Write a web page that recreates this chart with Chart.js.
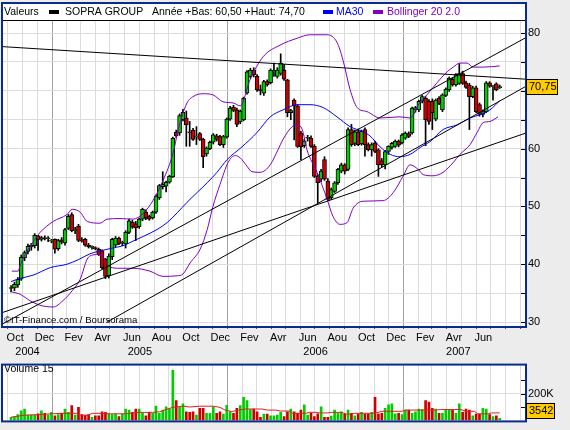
<!DOCTYPE html>
<html>
<head>
<meta charset="utf-8">
<script src="https://cdn.jsdelivr.net/npm/chart.js@4.4.1/dist/chart.umd.min.js"></script>
<style>
html, body { margin: 0; padding: 0; background: #ececec; }
#wrap { position: relative; width: 570px; height: 430px; overflow: hidden; }
#main { position: absolute; left: 0; top: 0; }
#vol { position: absolute; left: 0; top: 356px; }
</style>
</head>
<body>
<div id="wrap">
  <canvas id="main" width="570" height="360"></canvas>
  <canvas id="vol" width="570" height="74"></canvas>
</div>
<script>
// weekly candles, week 0 = week ending Fri 8 Oct 2004
const open = [
  35.8,35.9,36.4,37.4,41.1,42.2,43.0,43.2,44.9,44.3,
  44.5,44.4,44.0,44.3,42.7,44.2,43.7,46.2,48.6,45.8,
  46.6,44.1,44.3,43.3,42.9,42.8,42.6,42.3,40.9,38.0,
  41.3,43.3,44.5,43.6,43.5,45.5,47.3,47.0,46.5,47.8,
  49.0,48.3,48.0,49.0,51.5,53.4,53.5,54.2,55.1,62.8,
  62.7,65.0,65.3,62.9,63.2,62.0,62.6,61.6,59.1,60.0,
  61.1,62.2,62.1,60.7,62.0,65.1,67.2,66.7,64.6,65.0,
  69.6,72.5,73.6,72.5,70.2,69.6,71.6,71.4,73.3,72.5,
  73.0,73.6,71.9,66.2,68.4,67.4,62.7,60.5,61.8,61.8,
  60.4,55.2,54.7,58.1,54.4,51.5,52.6,54.1,56.1,57.2,
  56.4,63.3,60.9,62.9,60.8,63.3,60.7,59.8,61.0,59.8,
  57.9,57.2,59.5,60.2,60.4,61.3,61.0,61.8,62.6,62.7,
  66.7,66.7,68.2,68.7,68.2,68.2,65.1,68.7,66.7,69.2,
  70.2,72.0,71.0,71.3,73.0,71.4,71.0,69.0,70.5,67.6,
  65.9,66.4,71.4,70.7,71.2,70.55];
const high = [
  36.3,36.9,37.7,41.6,42.3,43.5,43.6,45.3,45.0,44.8,
  44.9,44.8,44.3,44.4,44.3,44.6,46.2,48.6,48.9,46.4,
  46.9,44.6,44.5,43.6,43.2,43.0,42.8,42.5,41.0,41.8,
  44.5,44.8,44.7,44.0,45.8,47.8,47.6,47.4,48.0,49.7,
  49.4,48.5,49.2,52.0,53.8,56.0,54.4,55.4,62.0,63.2,
  66.0,66.8,66.5,64.7,63.5,63.8,62.8,61.8,60.3,61.3,
  62.6,62.5,62.3,62.3,65.3,67.3,67.5,67.0,66.7,68.9,
  73.5,73.9,74.0,72.8,71.0,71.8,71.9,73.8,74.8,74.0,
  76.4,74.6,72.0,66.8,68.6,67.6,63.0,61.6,62.3,62.2,
  60.7,55.5,56.4,58.6,54.8,53.2,54.3,56.6,57.5,57.4,
  63.6,64.2,63.2,63.4,63.2,63.6,61.0,61.0,61.3,60.0,
  58.3,59.7,60.5,61.1,61.5,61.5,62.6,62.9,62.9,67.2,
  67.3,68.4,69.2,69.0,68.5,68.6,68.6,69.0,69.5,70.5,
  72.4,72.3,73.0,74.7,73.4,71.7,71.3,70.8,70.8,67.9,
  66.7,71.6,71.6,70.9,71.4,71.0];
const low = [
  35.2,35.4,36.0,37.2,40.6,41.8,42.4,42.8,42.4,44.0,
  44.2,43.9,43.7,41.9,42.4,43.5,43.3,46.0,45.6,45.3,
  43.9,43.8,43.1,42.8,42.6,42.5,41.5,39.2,37.5,37.6,
  40.8,43.0,43.4,43.2,42.8,45.3,46.2,44.1,46.2,47.5,
  47.7,47.6,47.8,48.8,51.2,53.0,52.5,54.0,55.0,61.9,
  62.3,64.8,60.4,60.4,61.4,60.7,61.4,56.7,58.7,59.8,
  60.8,61.3,60.5,60.2,61.8,64.9,66.4,63.8,64.3,64.8,
  69.4,72.2,72.4,69.9,69.3,69.2,70.8,71.2,72.5,72.2,
  72.7,71.8,65.5,65.0,61.5,60.2,58.1,60.2,61.3,60.2,
  55.0,50.6,54.3,54.5,51.0,51.2,52.4,53.8,55.8,55.6,
  56.2,60.4,60.5,60.5,60.6,58.7,59.6,58.7,59.3,55.2,
  56.8,56.5,59.0,59.9,60.2,60.3,60.8,61.6,61.9,62.5,
  66.3,66.4,67.9,60.5,64.2,63.3,64.8,67.6,66.4,69.0,
  69.9,70.8,70.8,71.1,71.1,70.4,63.3,68.8,66.2,65.6,
  65.5,66.2,70.6,68.4,70.0,70.4];
const close = [
  35.9,36.5,37.4,41.2,42.0,43.1,43.3,45.0,44.3,44.6,
  44.4,44.4,44.0,42.6,44.1,43.8,46.0,48.3,45.8,45.9,
  44.1,44.0,43.3,43.0,42.9,42.7,41.7,39.4,37.9,41.4,
  44.3,44.5,43.6,43.8,45.5,47.5,46.4,46.3,47.8,49.5,
  48.0,47.8,49.0,51.8,53.6,53.8,54.2,55.2,61.8,62.2,
  65.7,66.3,64.1,62.7,61.6,62.0,61.6,58.6,60.1,61.1,
  62.4,61.6,60.7,62.1,65.1,67.0,66.6,64.2,66.5,68.7,
  73.3,73.6,72.8,70.2,70.0,71.6,71.0,73.6,73.4,73.6,
  74.8,72.0,66.2,66.6,67.4,60.4,60.3,61.3,61.8,60.4,
  55.2,54.1,56.1,54.7,51.2,52.9,54.1,56.4,57.2,56.1,
  63.3,60.7,62.9,60.7,63.0,60.7,59.8,60.7,59.5,57.2,
  57.2,59.5,60.4,60.9,61.3,60.6,62.4,62.7,62.1,67.0,
  67.1,68.2,69.0,65.0,64.7,66.2,68.4,67.8,69.3,70.3,
  72.2,71.0,72.8,73.0,71.3,70.6,69.0,70.5,66.4,65.9,
  66.4,71.4,70.8,70.8,70.2,70.75];
// weekly volume, thousands of shares
const volumeK = [
  22,26,43,72,85,39,39,39,49,72,
  53,39,60,35,43,53,85,60,110,39,
  97,43,37,43,22,35,35,64,60,49,
  43,49,28,49,85,77,60,85,85,53,
  35,60,53,106,53,77,102,85,374,148,
  97,123,64,60,64,39,91,91,53,53,
  102,53,64,47,112,64,53,91,110,173,
  148,81,85,64,22,47,47,35,35,39,
  60,28,64,85,64,53,77,116,39,55,
  28,49,102,22,22,32,77,53,64,47,
  77,53,35,47,60,47,47,60,173,49,
  53,91,116,123,49,53,43,77,77,53,
  64,85,81,148,137,91,85,53,53,77,
  77,77,53,123,60,85,77,35,47,47,
  91,85,43,28,35,3.542];

// MA30 (week, price)
const ma30Week = [0,3,6.5,11.6,16.6,20,23.4,26.4,29.4,33.2,36.2,39.2,43.3,46.3,49.3,52.2,55.2,58.2,61.1,64.1,
  68.5,73,76.9,80.7,84.9,88.7,92.6,96.7,100.6,104.5,106.5,109.5,112.5,115.4,118.4,121.4,124.3,128.2,132.3,136.2,139.2,142.1,145];
const ma30Value = [37.0,37.6,38.1,39.4,40.0,40.8,41.8,42.3,42.7,43.2,44.0,44.8,46.0,47.2,48.9,50.7,52.4,54.1,55.9,58.1,
  60.3,62.8,65.5,66.7,67.6,67.6,67.1,65.5,63.8,62.9,62.2,60.3,59.0,58.6,59.0,60.2,61.2,63.3,64.1,65.3,65.9,66.7,68.3];

// Bollinger 20 2.0 bands
const bollUpWeek = [0.2,2.1,2.7,4.2,6.5,8.6,12.5,16.6,18.1,20.5,22.6,26.4,28.5,32.3,36.2,39.2,42.1,45.1,48.1,49.6,
  52.2,54,57,59.9,62.9,65.9,68,70.9,74.8,79.8,84.9,88.7,93.8,96.7,98.5,100.6,102.7,105.6,109.5,115.4,
  118.4,121.4,123.4,126.4,129.4,131.2,133.2,135.3,137.1,140.1,145];
const bollUpValue = [38.8,38.8,39.8,41.7,43.8,45.5,47.4,48.6,49.5,49.0,47.4,47.1,47.8,47.9,47.8,48.8,51.0,54.5,59.3,63.3,
  67.9,69.0,69.5,69.3,68.1,67.9,67.4,71.9,75.9,77.9,79.1,79.7,79.7,78.4,75.3,70.2,67.1,66.4,65.3,65.5,
  65.3,68.1,69.3,71.4,73.3,74.1,74.8,74.8,74.1,74.1,74.3];
const bollLowWeek = [0.2,2.7,5.6,8.6,12.5,15.4,18.1,20.5,22.6,24.3,26.4,29.4,32.3,36.2,41.2,45.1,49.3,51,53.1,56.1,
  58.2,59.9,62,64.4,66.5,68,69.7,71.5,73.9,76.9,79.2,80.7,83.4,84.9,86.4,87.8,90.8,93.8,95.5,97.6,
  99.7,101.5,104.5,110.4,113.4,116.3,118.4,120.8,122.3,125.2,128.2,131.2,133.2,136.2,138.3,140.1,142.1,144.5];
const bollLowValue = [35.2,34.8,33.7,32.9,32.6,33.7,35.4,37.4,40.9,41.6,41.7,39.5,39.3,39.3,38.8,37.9,38.0,38.3,40.2,42.6,
  46.0,50.0,53.8,57.6,58.8,58.4,57.2,56.0,55.9,57.2,59.8,61.6,63.8,64.1,63.3,59.8,55.9,51.2,48.3,46.9,
  47.2,49.7,50.9,51.0,52.4,55.2,57.2,56.4,55.5,55.3,55.9,57.6,59.0,60.7,62.8,64.5,64.7,65.5];

// volume 15 average (week, thousands)
const volMaWeek = [0,4,8,12,15,19,20.5,23,24,27,29,34,36,38,42,44,46,48,51,53,56,60,62,63.5,65.5,67.5,69.5,74.5,76,78.5,
  80,82.5,83.5,87.5,88.5,90.5,91.5,94,95,98,99.5,101,102,108,110,116,117,126,127.5,133.5,135,137.5,138.5,141.5,142.5,145];
const volMaValue = [24,39,43,49,53,53,39,39,53,53,49,49,56,60,60,64,81,98,106,100,106,106,97,77,66,77,85,85,77,77,
  70,70,53,53,60,60,56,56,60,60,47,47,53,53,68,68,77,77,81,81,68,68,49,49,56,56];

// trend lines drawn on the chart: [start, end] in weeks and prices
const trendWeeks = [[-2.4, 152.5], [-2.4, 152.5], [-2.4, 152.5], [28.5, 152.5]];
const trendValues = [[77.64, 72.02], [31.67, 62.64], [29.71, 79.12], [30.0, 70.69]];

const priceTicks = [30, 35, 40, 45, 50, 55, 60, 65, 70, 75, 80];
const volumeTicks = [100000, 200000, 300000];
const monthNames = ['Jan','Fev','Mar','Avr','Mai','Jun','Jul','Aou','Sep','Oct','Nov','Dec'];
const yearLow = '60,50', yearHigh = '74,70';

const firstWeek = Date.UTC(2004, 9, 8);
const WEEK = 7 * 864e5;
const xMin = -2.4, xMax = 152.5;
const yMin = 29.31, yMax = 82.08;
const volMax = 409000;
const lastIndex = open.length - 1;

const weekOf = (y, m) => (Date.UTC(y, m, 1) - firstWeek) / WEEK;

const monthTicks = [], monthLabelTicks = [], yearTicks = [];
for (let y = 2004; y <= 2007; y++) {
  for (let m = 0; m < 12; m++) {
    const a = weekOf(y, m), b = weekOf(y, m + 1);
    if (a >= xMin && a <= xMax) monthTicks.push({ value: a, year: m === 0 });
    const mid = (a + b) / 2;
    if (m % 2 === 1 && mid >= xMin && mid <= lastIndex) monthLabelTicks.push({ value: mid, label: monthNames[m] });
  }
  const s = Math.max(weekOf(y, 0), xMin), e = Math.min(weekOf(y + 1, 0), lastIndex + 4);
  if (e > s) yearTicks.push({ value: (s + e) / 2, label: String(y) });
}

const upColor = '#00cc00', downColor = '#cc0000';
const candleColor = close.map((c, i) => c >= open[i] ? upColor : downColor);
const pts = (xs, ys) => xs.map((x, i) => ({ x: x, y: ys[i] }));

Chart.defaults.font.family = "'Liberation Sans', Arial, sans-serif";
Chart.defaults.font.size = 11;
Chart.defaults.color = '#000';

const gridColor = c => (c.tick && c.tick.year) ? '#a0a0a0' : '#dcdcdc';
const smallFont = "10.5px 'Liberation Sans', Arial, sans-serif";

function innerTicks(chart) {
  const { ctx, chartArea: a } = chart;
  const ys = chart.scales.y;
  ctx.save();
  ctx.strokeStyle = '#000';
  ctx.lineWidth = 1;
  ys.ticks.forEach(t => {
    const py = Math.round(ys.getPixelForValue(t.value)) + 0.5;
    ctx.beginPath();
    ctx.moveTo(a.right - 4, py);
    ctx.lineTo(a.right, py);
    ctx.stroke();
  });
  ctx.restore();
}

function valueBox(ctx, x, y, w, text) {
  ctx.fillStyle = '#ffcc00';
  ctx.fillRect(x, y - 7.5, w, 15);
  ctx.strokeStyle = '#000';
  ctx.lineWidth = 1;
  ctx.strokeRect(x + 0.5, Math.round(y - 7.5) + 0.5, w - 1, 15);
  ctx.fillStyle = '#000';
  ctx.font = "11px 'Liberation Sans', Arial, sans-serif";
  ctx.textBaseline = 'middle';
  ctx.fillText(text, x + 3, y + 0.5);
}

const mainFrame = {
  id: 'mainFrame',
  beforeDraw(chart) {
    const { ctx, chartArea: a } = chart;
    ctx.save();
    ctx.fillStyle = '#fff';
    ctx.fillRect(a.left - 1, 3, a.right - a.left + 2, a.bottom - 2);
    ctx.restore();
  },
  afterDraw(chart) {
    const { ctx, chartArea: a } = chart;
    ctx.save();
    // header row
    ctx.strokeStyle = '#000';
    ctx.lineWidth = 1;
    ctx.beginPath();
    ctx.moveTo(a.left, 20.5);
    ctx.lineTo(a.right, 20.5);
    ctx.stroke();
    ctx.font = smallFont;
    ctx.textBaseline = 'middle';
    const ty = 12.5;
    ctx.fillStyle = '#000';
    ctx.fillText('Valeurs', 4, ty);
    ctx.fillRect(49, 10, 10, 4);
    ctx.fillText('SOPRA GROUP', 65, ty);
    ctx.fillText('Année +Bas: ' + yearLow + ' +Haut: ' + yearHigh, 152, ty);
    ctx.fillStyle = '#0000ff';
    ctx.fillRect(323, 10, 10, 4);
    ctx.fillText('MA30', 336, ty);
    ctx.fillStyle = '#8000c0';
    ctx.fillRect(373, 10, 10, 4);
    ctx.fillText('Bollinger 20 2.0', 387, ty);
    // watermark
    ctx.fillStyle = '#000';
    ctx.font = "9.6px 'Liberation Sans', Arial, sans-serif";
    ctx.fillText('©IT-Finance.com / Boursorama', 4, 320.5);
    ctx.restore();

    innerTicks(chart);

    ctx.save();
    ctx.strokeStyle = '#0b2c8c';
    ctx.lineWidth = 2;
    ctx.strokeRect(a.left - 1, 3, a.right - a.left + 2, a.bottom - 2);
    const last = close[lastIndex];
    valueBox(ctx, a.right + 1, chart.scales.y.getPixelForValue(last), 32, last.toFixed(2).replace('.', ','));
    ctx.restore();
  }
};

new Chart(document.getElementById('main'), {
  type: 'bar',
  data: {
    datasets: [
      {
        label: 'wick',
        data: open.map((o, i) => ({ x: i, y: [low[i], high[i]] })),
        backgroundColor: '#000',
        barThickness: 1,
        grouped: false,
        order: 6
      },
      {
        label: 'SOPRA GROUP',
        data: open.map((o, i) => ({ x: i, y: [o, close[i]] })),
        backgroundColor: candleColor,
        borderColor: '#000',
        borderWidth: 1,
        borderSkipped: false,
        barThickness: 4,
        minBarLength: 1,
        grouped: false,
        order: 5
      },
      {
        type: 'line', label: 'MA30', data: pts(ma30Week, ma30Value),
        borderColor: '#0000ff', borderWidth: 1, pointRadius: 0, cubicInterpolationMode: 'monotone', order: 2
      },
      {
        type: 'line', label: 'Bollinger haut', data: pts(bollUpWeek, bollUpValue),
        borderColor: '#8000c0', borderWidth: 1, pointRadius: 0, cubicInterpolationMode: 'monotone', order: 3
      },
      {
        type: 'line', label: 'Bollinger bas', data: pts(bollLowWeek, bollLowValue),
        borderColor: '#8000c0', borderWidth: 1, pointRadius: 0, cubicInterpolationMode: 'monotone', order: 3
      },
      ...trendWeeks.map((w, j) => ({
        type: 'line', label: 'trend ' + j, data: pts(w, trendValues[j]),
        borderColor: '#000', borderWidth: 1, pointRadius: 0, order: 1
      }))
    ]
  },
  options: {
    responsive: false,
    animation: false,
    events: [],
    layout: { padding: { left: 3, top: 21, right: 0, bottom: 0 } },
    plugins: { legend: { display: false }, tooltip: { enabled: false } },
    scales: {
      x: {
        type: 'linear', min: xMin, max: xMax, bounds: 'data', offset: false,
        grid: { offset: false, color: gridColor, tickColor: '#555', tickLength: 3, drawTicks: true },
        border: { display: false },
        ticks: { display: false },
        afterBuildTicks: s => { s.ticks = monthTicks.map(t => ({ value: t.value, year: t.year })); },
        afterFit: s => { s.height = 4; s.paddingLeft = 0; s.paddingRight = 0; }
      },
      xm: {
        type: 'linear', position: 'bottom', weight: 1, min: xMin, max: xMax, bounds: 'data', offset: false,
        grid: { display: false, drawTicks: false },
        border: { display: false },
        ticks: { autoSkip: false, maxRotation: 0, padding: 1, callback: (v, i) => monthLabelTicks[i] ? monthLabelTicks[i].label : '' },
        afterBuildTicks: s => { s.ticks = monthLabelTicks.map(t => ({ value: t.value })); },
        afterFit: s => { s.height = 14; s.paddingLeft = 0; s.paddingRight = 0; }
      },
      xy: {
        type: 'linear', position: 'bottom', weight: 2, min: xMin, max: xMax, bounds: 'data', offset: false,
        grid: { display: false, drawTicks: false },
        border: { display: false },
        ticks: { autoSkip: false, maxRotation: 0, padding: 1, callback: (v, i) => yearTicks[i] ? yearTicks[i].label : '' },
        afterBuildTicks: s => { s.ticks = yearTicks.map(t => ({ value: t.value })); },
        afterFit: s => { s.height = 16; s.paddingLeft = 0; s.paddingRight = 0; }
      },
      y: {
        type: 'linear', position: 'right', min: yMin, max: yMax, bounds: 'data', beginAtZero: false,
        grid: { color: '#dcdcdc', drawTicks: false },
        border: { display: false },
        ticks: { padding: 3, callback: v => v % 10 === 0 ? String(v) : '' },
        afterBuildTicks: s => { s.ticks = priceTicks.map(v => ({ value: v })); },
        afterFit: s => { s.width = 45; }
      }
    }
  },
  plugins: [mainFrame]
});

const volFrame = {
  id: 'volFrame',
  beforeDraw(chart) {
    const { ctx, chartArea: a } = chart;
    ctx.save();
    ctx.fillStyle = '#fff';
    ctx.fillRect(a.left - 1, a.top - 1, a.right - a.left + 2, a.bottom - a.top + 2);
    ctx.restore();
  },
  afterDraw(chart) {
    const { ctx, chartArea: a } = chart;
    ctx.save();
    ctx.font = smallFont;
    ctx.textBaseline = 'middle';
    ctx.fillStyle = '#000';
    ctx.fillText('Volume 15', 4, 13);
    ctx.restore();
    innerTicks(chart);
    ctx.save();
    ctx.strokeStyle = '#0b2c8c';
    ctx.lineWidth = 2;
    ctx.strokeRect(a.left - 1, a.top - 1, a.right - a.left + 2, a.bottom - a.top + 2);
    const lastVol = Math.round(volumeK[lastIndex] * 1000);
    const py = Math.min(chart.scales.y.getPixelForValue(lastVol), a.bottom - 10);
    valueBox(ctx, a.right + 1, py, 29, String(lastVol));
    ctx.restore();
  }
};

new Chart(document.getElementById('vol'), {
  type: 'bar',
  data: {
    datasets: [
      {
        label: 'Volume',
        data: volumeK.map((v, i) => ({ x: i, y: Math.round(v * 1000) })),
        backgroundColor: candleColor,
        barThickness: 2,
        minBarLength: 2,
        grouped: false,
        order: 2
      },
      {
        type: 'line', label: 'Volume 15', data: pts(volMaWeek, volMaValue.map(v => v * 1000)),
        borderColor: '#dd2020', borderWidth: 1, pointRadius: 0, order: 1
      }
    ]
  },
  options: {
    responsive: false,
    animation: false,
    events: [],
    layout: { padding: { left: 3, top: 4, right: 0, bottom: 0 } },
    plugins: { legend: { display: false }, tooltip: { enabled: false } },
    scales: {
      x: {
        type: 'linear', min: xMin, max: xMax, bounds: 'data', offset: false,
        grid: { offset: false, color: gridColor, drawTicks: false },
        border: { display: false },
        ticks: { display: false },
        afterBuildTicks: s => { s.ticks = monthTicks.map(t => ({ value: t.value, year: t.year })); },
        afterFit: s => { s.height = 6; s.paddingLeft = 0; s.paddingRight = 0; }
      },
      y: {
        type: 'linear', position: 'right', min: 0, max: volMax, bounds: 'data',
        grid: { color: c => (c.tick && c.tick.value === 200000) ? '#dcdcdc' : 'rgba(0,0,0,0)', drawTicks: false },
        border: { display: false },
        ticks: { padding: 3, callback: v => v === 200000 ? '200K' : '' },
        afterBuildTicks: s => { s.ticks = volumeTicks.map(v => ({ value: v })); },
        afterFit: s => { s.width = 45; }
      }
    }
  },
  plugins: [volFrame]
});
</script>
</body>
</html>
